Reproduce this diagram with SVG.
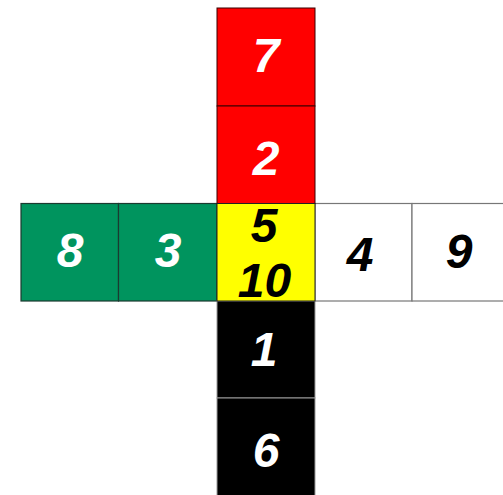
<svg xmlns="http://www.w3.org/2000/svg" width="503" height="495" viewBox="0 0 503 495">
<style>
.t{font-family:"Liberation Sans",Arial,sans-serif;font-weight:bold;font-style:italic;font-size:48px;text-anchor:middle}
.w{fill:#ffffff}
.k{fill:#000000}
.red{fill:#ff0000;stroke:#3a0000;stroke-width:1}
.grn{fill:#00945e;stroke:#1c3a30;stroke-width:1.2}
.yel{fill:#ffff00;stroke:#222;stroke-width:1}
.blk{fill:#000000;stroke:#999;stroke-width:1}
.wht{fill:#ffffff;stroke:#777;stroke-width:1.2}
</style>
<rect width="503" height="495" fill="#ffffff"/>
<g id="n4"><rect class="wht" x="315" y="203.5" width="97" height="97.5"/><text class="t k" x="360" y="271">4</text></g>
<g id="n9"><rect class="wht" x="412" y="203.5" width="97" height="97.5"/><text class="t k" x="459" y="268">9</text></g>
<g id="n8"><rect class="grn" x="21" y="203.5" width="97.5" height="97.5"/><text class="t w" x="70" y="267">8</text></g>
<g id="n3"><rect class="grn" x="118.5" y="203.5" width="98.5" height="97.5"/><text class="t w" x="168" y="267">3</text></g>
<g id="n7"><rect class="red" x="217" y="8" width="98" height="98"/><text class="t w" x="266" y="72">7</text></g>
<g id="n2"><rect class="red" x="217" y="106" width="98" height="97.5"/><text class="t w" x="266" y="175">2</text></g>
<g id="n1"><rect class="blk" x="217" y="301" width="98" height="97"/><text class="t w" x="264" y="366">1</text></g>
<g id="n6"><rect class="blk" x="217" y="398" width="98" height="98"/><text class="t w" x="266" y="467">6</text></g>
<g id="n5"><rect class="yel" x="217" y="203.5" width="98" height="97.5"/><text class="t k" x="264" y="242">5</text><text class="t k" x="264.5" y="297">10</text></g>
<g id="connectors"></g>
</svg>
